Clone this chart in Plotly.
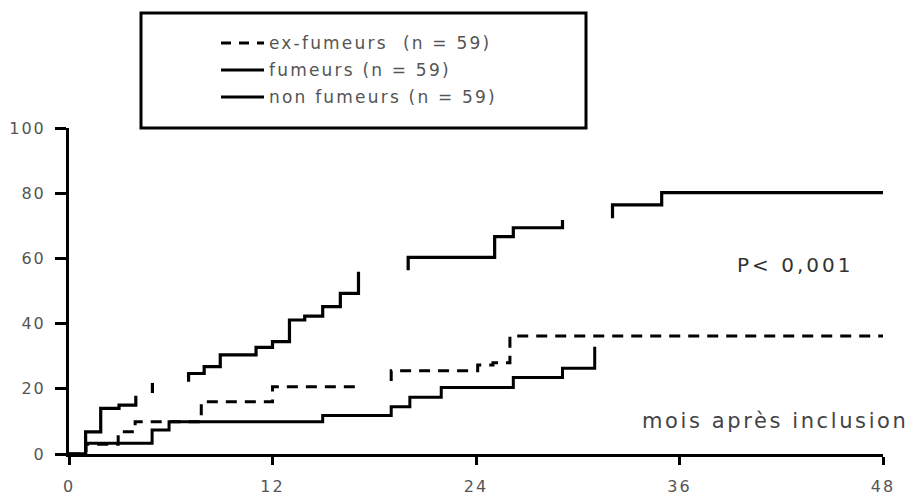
import plotly.graph_objects as go

# ---- data (months after inclusion, cumulative %) ----
ex_x = [0, 1.0, 2.9, 3.9, 7.8, 12.0, 17.1, None, 19.0, 19.0, 24.1, 25.0, 26.0, 26.0, 48.0]
ex_y = [0, 3.0, 6.8, 9.9, 16.0, 20.6, 20.6, None, 22.4, 25.5, 27.3, 28.0, 30.9, 36.2, 36.2]

fu_x = [0, 0.98, 1.87, 2.95, 3.94, None, 4.92, 4.92, None, 7.05, 7.05, 7.97, 8.92, 11.03, 12.0,
        13.0, 13.9, 14.96, 16.0, 17.07, None, 20.0, 20.0, 25.1, 26.2, 29.1, None, 32.05, 32.05,
        34.95, 48.0]
fu_y = [0, 6.8, 14.0, 15.0, 17.9, None, 18.7, 21.8, None, 22.2, 24.7, 26.8, 30.4, 32.7, 34.5,
        41.1, 42.3, 45.2, 49.3, 55.9, None, 56.4, 60.3, 66.7, 69.4, 71.8, None, 72.3, 76.4,
        80.2, 80.2]

nf_x = [0, 0.98, 4.9, 5.9, 14.96, 19.0, 20.1, 21.95, 26.2, 29.1, 31.0]
nf_y = [0, 3.3, 7.4, 9.9, 11.8, 14.5, 17.4, 20.4, 23.5, 26.3, 32.9]

x_ticks = [0, 12, 24, 36, 48]
y_ticks = [0, 20, 40, 60, 80, 100]
legend_labels = ["ex-fumeurs\u00a0 (n = 59)", "fumeurs (n = 59)", "non fumeurs (n = 59)"]
p_text = "P< 0,001"
x_title = "mois après inclusion"

FONT = "DejaVu Sans"


def sp(t, ls):
    return f'<span style="letter-spacing:{ls}px">{t}</span>'


L, R, T, B = 69, 914 - 883, 128, 501 - 454
PW, PH = 914 - L - R, 501 - T - B


def px2x(px):
    return (px - L) / PW


def py2y(py):
    return (501 - B - py) / PH


fig = go.Figure()
fig.add_trace(go.Scatter(x=ex_x, y=ex_y, mode="lines", line_shape="hv",
                         line=dict(color="black", width=3, dash="11px,8px"),
                         connectgaps=False, showlegend=False, hoverinfo="skip"))
fig.add_trace(go.Scatter(x=fu_x, y=fu_y, mode="lines", line_shape="hv",
                         line=dict(color="black", width=3.2),
                         connectgaps=False, showlegend=False, hoverinfo="skip"))
fig.add_trace(go.Scatter(x=nf_x, y=nf_y, mode="lines", line_shape="hv",
                         line=dict(color="black", width=3),
                         connectgaps=False, showlegend=False, hoverinfo="skip"))

tick_font = dict(family=FONT, size=16, color="#555")
fig.update_xaxes(range=[0, 48], tickvals=x_ticks,
                 ticktext=[sp(str(v), 2) for v in x_ticks],
                 showline=True, linecolor="black", linewidth=3,
                 ticks="outside", ticklen=8, tickwidth=2.5, tickcolor="black",
                 showgrid=False, zeroline=False, tickfont=tick_font,
                 ticklabelstandoff=8, automargin=False)
fig.update_yaxes(range=[0, 100], tickvals=y_ticks,
                 ticktext=[sp(str(v), 2) for v in y_ticks],
                 showline=True, linecolor="black", linewidth=3,
                 ticks="outside", ticklen=11, tickwidth=2.5, tickcolor="black",
                 showgrid=False, zeroline=False, tickfont=tick_font,
                 ticklabelstandoff=6, automargin=False)

shapes = []
# legend frame
bx0, bx1, by0, by1 = 141, 586, 13, 128
shapes.append(dict(type="rect", xref="paper", yref="paper",
                   x0=px2x(bx0), y0=py2y(by1), x1=px2x(bx1), y1=py2y(by0),
                   line=dict(color="black", width=3), fillcolor="rgba(0,0,0,0)"))
rows = [43, 70, 97]
dashes = ["10px,8px", "solid", "solid"]
for ry, d in zip(rows, dashes):
    shapes.append(dict(type="line", xref="paper", yref="paper",
                       x0=px2x(221), y0=py2y(ry), x1=px2x(264), y1=py2y(ry),
                       line=dict(color="black", width=3, dash=d)))

annotations = []
for ry, lab in zip(rows, legend_labels):
    annotations.append(dict(xref="paper", yref="paper", x=px2x(267), y=py2y(ry),
                            xanchor="left", yanchor="middle", showarrow=False,
                            text=sp(lab, 2.2), font=dict(family=FONT, size=17, color="#555")))
annotations.append(dict(xref="paper", yref="paper", x=px2x(735), y=py2y(265),
                        xanchor="left", yanchor="middle", showarrow=False,
                        text=sp(p_text, 3), font=dict(family=FONT, size=20, color="#333")))
annotations.append(dict(xref="paper", yref="paper", x=px2x(640), y=py2y(421),
                        xanchor="left", yanchor="middle", showarrow=False,
                        text=sp(x_title, 2.6), font=dict(family=FONT, size=21, color="#444")))

fig.update_layout(width=914, height=501, margin=dict(l=L, r=R, t=T, b=B),
                  paper_bgcolor="white", plot_bgcolor="white",
                  shapes=shapes, annotations=annotations, showlegend=False)

fig.write_html("out.html")
